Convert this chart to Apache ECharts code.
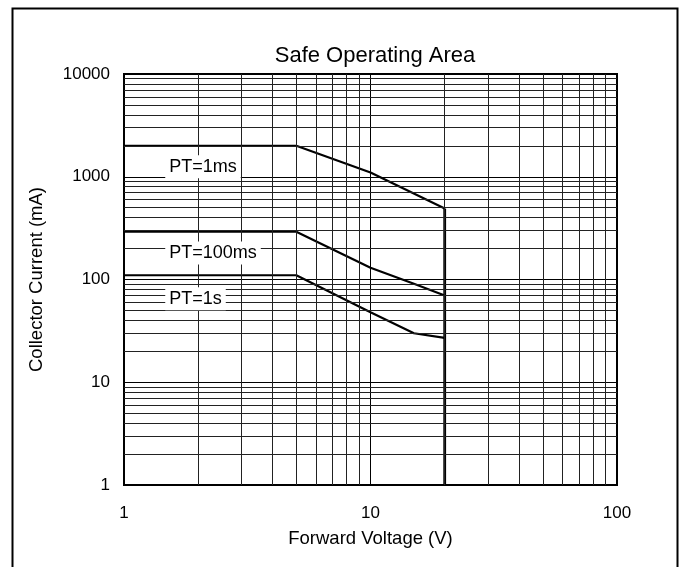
<!DOCTYPE html>
<html>
<head>
<meta charset="utf-8">
<script src="https://cdn.jsdelivr.net/npm/echarts@6/dist/echarts.min.js"></script>
<style>
html,body{margin:0;padding:0;background:#fff;}
#c{width:684px;height:567px;}
</style>
</head>
<body>
<div id="c"></div>
<script>
// ---- data ----
const titleText = 'Safe Operating Area';
const xName = 'Forward Voltage (V)';
const yName = 'Collector Current (mA)';
const xTicks = [1, 10, 100];
const yTicks = [1, 10, 100, 1000, 10000];
const xMinorGrid = [2,3,4,5,6,7,8,9,20,30,40,50,60,70,80,90];
const yMinorGrid = [2,3,4,5,6,7,8,9,20,30,40,50,60,70,80,90,200,300,400,500,600,700,800,900,2000,3000,4000,5000,6000,7000,8000,9000];

const pt1msV = [1, 5, 10, 20];
const pt1msI = [2000, 2000, 1100, 490];
const pt100msV = [1, 5, 10, 15, 20];
const pt100msI = [292, 292, 130, 91, 70];
const pt1sV = [1, 5, 10, 15, 20];
const pt1sI = [110, 110, 48, 30, 27];
const limitV = [20, 20];
const limitI = [490, 1];

const curveLabels = ['PT=1ms', 'PT=100ms', 'PT=1s'];
const labelV = [1.47, 1.47, 1.47];
const labelI = [1250, 181, 65];

// ---- chart ----
const zip = (a, b) => a.map((v, i) => [v, b[i]]);
const FONT = '"Liberation Sans", Arial, sans-serif';
const lineStyle = {color: '#000', width: 2.2};

const chart = echarts.init(document.getElementById('c'), null, {renderer: 'canvas'});
chart.setOption({
  animation: false,
  backgroundColor: '#fff',
  title: {
    text: titleText, left: 370, textAlign: 'center', top: 40,
    textStyle: {fontFamily: FONT, fontSize: 22, fontWeight: 'normal', color: '#000'}
  },
  graphic: [{
    type: 'rect', silent: true, z: 100,
    shape: {x: 12.5, y: 8.5, width: 665, height: 562},
    style: {fill: 'none', stroke: '#000', lineWidth: 2}
  }],
  grid: {left: 124, top: 74, right: 67, bottom: 82, show: true, borderColor: '#000', borderWidth: 2, backgroundColor: 'transparent'},
  xAxis: {
    type: 'log', logBase: 10, min: xTicks[0], max: xTicks[xTicks.length - 1],
    name: xName, nameLocation: 'middle', nameGap: 44,
    nameTextStyle: {fontFamily: FONT, fontSize: 18.5, color: '#000'},
    axisLine: {lineStyle: {color: '#000', width: 2}},
    axisTick: {show: false},
    axisLabel: {fontFamily: FONT, fontSize: 17, color: '#000', margin: 20, formatter: v => String(v)},
    splitLine: {show: true, lineStyle: {color: '#000', width: 1}}
  },
  yAxis: {
    type: 'log', logBase: 10, min: yTicks[0], max: yTicks[yTicks.length - 1],
    name: yName, nameLocation: 'middle', nameGap: 78,
    nameTextStyle: {fontFamily: FONT, fontSize: 18.5, color: '#000'},
    axisLine: {lineStyle: {color: '#000', width: 2}},
    axisTick: {show: false},
    axisLabel: {fontFamily: FONT, fontSize: 17, color: '#000', margin: 14, formatter: v => String(v)},
    splitLine: {show: true, lineStyle: {color: '#000', width: 1}}
  },
  series: [
    {
      type: 'line', data: [], silent: true,
      markLine: {
        silent: true, symbol: 'none', label: {show: false},
        lineStyle: {color: '#222', width: 1, type: 'solid'},
        data: xMinorGrid.map(v => ({xAxis: v})).concat(yMinorGrid.map(v => ({yAxis: v})))
      }
    },
    {
      type: 'scatter', symbolSize: 0, silent: true, z: 5,
      itemStyle: {opacity: 1},
      data: curveLabels.map((t, i) => ({value: [labelV[i], labelI[i]], name: t})),
      label: {
        show: true, position: 'right', distance: 0,
        formatter: p => p.name,
        fontFamily: FONT, fontSize: 18, color: '#000',
        backgroundColor: '#fff', padding: [3, 4, 2, 4]
      }
    },
    {type: 'line', name: 'PT=1ms', data: zip(pt1msV, pt1msI), symbol: 'none', lineStyle, z: 4},
    {type: 'line', name: 'PT=100ms', data: zip(pt100msV, pt100msI), symbol: 'none', lineStyle, z: 4},
    {type: 'line', name: 'PT=1s', data: zip(pt1sV, pt1sI), symbol: 'none', lineStyle, z: 4},
    {type: 'line', name: 'limit', data: zip(limitV, limitI), symbol: 'none', lineStyle: {color: '#000', width: 2.8}, z: 4}
  ]
});
</script>
</body>
</html>
